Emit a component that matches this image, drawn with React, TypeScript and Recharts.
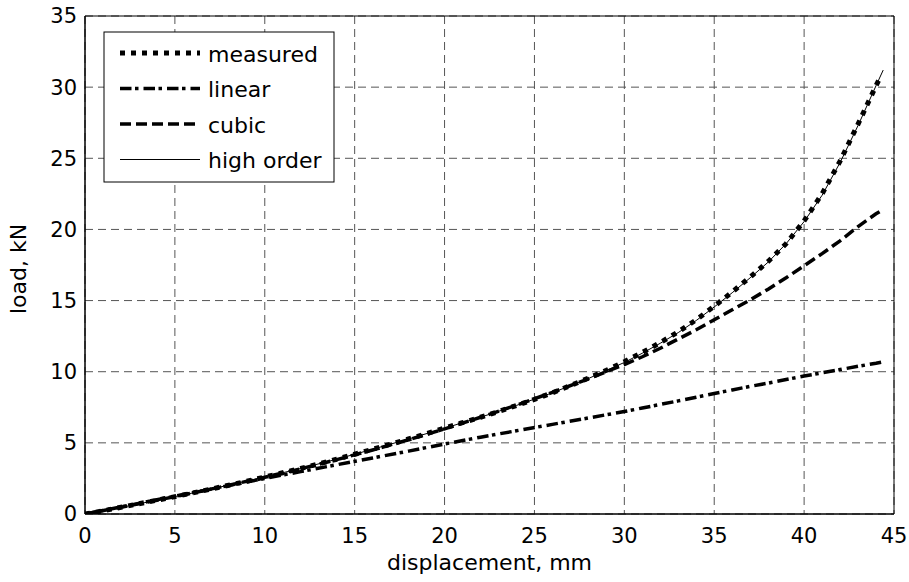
import React from 'react';
import { LineChart, Line, XAxis, YAxis, CartesianGrid, ReferenceArea, Label } from 'recharts';

const FONT = '"DejaVu Sans", Verdana, sans-serif';

// displacement (mm) / load (kN)
const measuredDisp = [0, 1, 2, 3, 4, 5, 6, 7, 8, 9, 10, 11, 12, 13, 14, 15, 16, 17, 18, 19, 20, 21, 22, 23, 24, 25, 26, 27, 28, 29, 30, 31, 32, 33, 34, 35, 36, 37, 38, 39, 40, 41, 42, 43, 44, 44.2];
const measuredLoad = [0, 0.22, 0.47, 0.72, 0.97, 1.22, 1.48, 1.75, 2.02, 2.3, 2.6, 2.9, 3.2, 3.52, 3.85, 4.2, 4.55, 4.9, 5.27, 5.65, 6.05, 6.42, 6.8, 7.2, 7.62, 8.05, 8.52, 9.02, 9.55, 10.1, 10.7, 11.35, 12.05, 12.8, 13.65, 14.6, 15.6, 16.65, 17.75, 19.0, 20.6, 22.5, 24.8, 27.4, 30.1, 30.6];

const fitDisp = [0, 2, 4, 6, 8, 10, 12, 14, 16, 18, 20, 22, 24, 26, 28, 30, 31, 32, 33, 34, 35, 36, 37, 38, 39, 40, 41, 42, 43, 44, 44.4];
const linearLoad = [0, 0.5, 1.0, 1.5, 2.0, 2.5, 2.98, 3.46, 3.94, 4.42, 4.92, 5.4, 5.85, 6.3, 6.75, 7.2, 7.45, 7.7, 7.95, 8.2, 8.47, 8.72, 8.97, 9.2, 9.45, 9.7, 9.92, 10.15, 10.38, 10.6, 10.7];
const cubicLoad = [0, 0.47, 0.97, 1.48, 2.02, 2.58, 3.18, 3.82, 4.5, 5.22, 5.98, 6.8, 7.65, 8.55, 9.5, 10.5, 11.05, 11.65, 12.3, 12.95, 13.65, 14.35, 15.05, 15.8, 16.6, 17.45, 18.3, 19.2, 20.2, 21.1, 21.4];
const highOrderLoad = [0, 0.46, 0.97, 1.48, 2.03, 2.6, 3.2, 3.85, 4.55, 5.27, 6.03, 6.8, 7.63, 8.52, 9.52, 10.65, 11.3, 12.0, 12.75, 13.6, 14.55, 15.55, 16.6, 17.7, 19.0, 20.55, 22.4, 24.7, 27.3, 30.1, 31.2];

const xTicks = [0, 5, 10, 15, 20, 25, 30, 35, 40, 45];
const yTicks = [0, 5, 10, 15, 20, 25, 30, 35];

const toPoints = (xs: number[], ys: number[]) => xs.map((x, i) => ({ x, y: ys[i] }));

const series = [
  { name: 'measured', data: toPoints(measuredDisp, measuredLoad), width: 5, dash: '5 6' as string | undefined },
  { name: 'linear', data: toPoints(fitDisp, linearLoad), width: 3.5, dash: '11.5 3.5 3.5 5' as string | undefined },
  { name: 'cubic', data: toPoints(fitDisp, cubicLoad), width: 3.5, dash: '11 5' as string | undefined },
  { name: 'high order', data: toPoints(fitDisp, highOrderLoad), width: 1, dash: undefined as string | undefined },
];

const W = 909;
const H = 582;

const LegendBox = () => (
  <svg width={232} height={152} style={{ position: 'absolute', left: 103, top: 31 }}>
    <rect x={1} y={1} width={230} height={150} fill="#fff" stroke="#000" strokeWidth={1} />
    {series.map((s, i) => {
      const cy = 22 + i * 35.5;
      return (
        <g key={s.name}>
          <line x1={17} x2={97} y1={cy} y2={cy} stroke="#000" strokeWidth={s.width} strokeDasharray={s.dash} />
          <text x={105} y={cy + 8.5} fontFamily={FONT} fontSize={22} fill="#000">{s.name}</text>
        </g>
      );
    })}
  </svg>
);

const XLabel = (props: any) => {
  const vb = props.viewBox || {};
  return (
    <text x={vb.x + vb.width / 2} y={vb.y + 56} textAnchor="middle" fontFamily={FONT} fontSize={22} fill="#000">
      displacement, mm
    </text>
  );
};

const YLabel = (props: any) => {
  const vb = props.viewBox || {};
  const cx = 26;
  const cy = vb.y + vb.height / 2 + 4;
  return (
    <text x={cx} y={cy} transform={`rotate(-90 ${cx} ${cy})`} textAnchor="middle" fontFamily={FONT} fontSize={22} fill="#000">
      load, kN
    </text>
  );
};

export default function App() {
  return (
    <div style={{ position: 'fixed', left: 0, top: 0, width: W, height: H, background: '#fff' }}>
      <LineChart width={W} height={H} margin={{ top: 16, right: 15, left: 0, bottom: 0 }}>
        <CartesianGrid stroke="#555" strokeDasharray="8 5" strokeWidth={1} />
        <XAxis
          dataKey="x"
          type="number"
          domain={[0, 45]}
          ticks={xTicks}
          allowDataOverflow
          height={68}
          tickLine={false}
          tickMargin={8}
          axisLine={{ stroke: '#000' }}
          tick={{ fill: '#000', fontSize: 21, fontFamily: FONT }}
        >
          <Label content={<XLabel />} />
        </XAxis>
        <YAxis
          type="number"
          domain={[0, 35]}
          ticks={yTicks}
          allowDataOverflow
          width={85}
          tickLine={false}
          axisLine={{ stroke: '#000' }}
          tick={{ fill: '#000', fontSize: 21, fontFamily: FONT }}
        >
          <Label content={<YLabel />} />
        </YAxis>
        <ReferenceArea x1={0} x2={45} y1={0} y2={35} fill="none" stroke="#000" strokeWidth={1} ifOverflow="visible" />
        {series.map((s) => (
          <Line
            key={s.name}
            data={s.data}
            dataKey="y"
            name={s.name}
            type="linear"
            stroke="#000"
            strokeWidth={s.width}
            strokeDasharray={s.dash}
            dot={false}
            activeDot={false}
            isAnimationActive={false}
          />
        ))}
      </LineChart>
      <LegendBox />
    </div>
  );
}
